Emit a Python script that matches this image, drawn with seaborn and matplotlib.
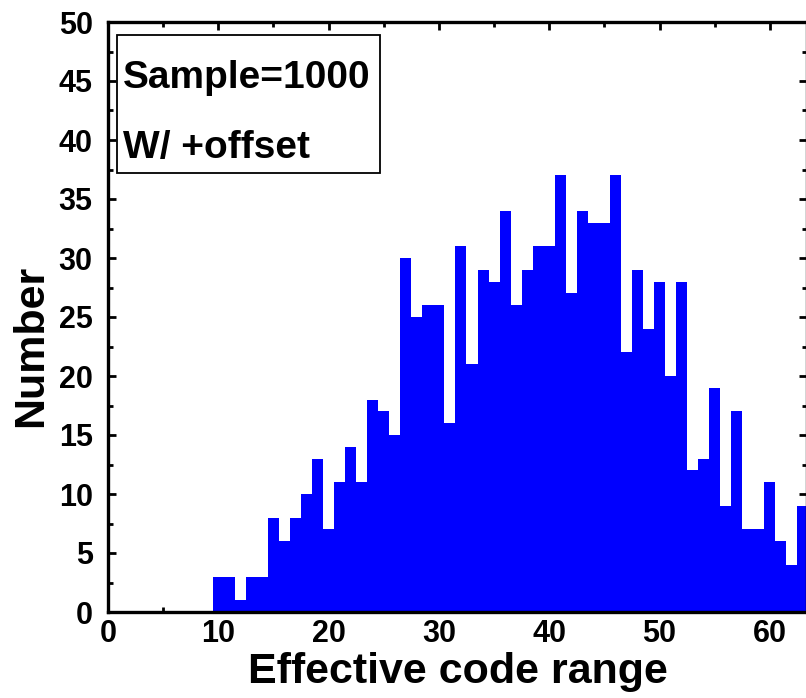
import matplotlib
matplotlib.use("Agg")
import matplotlib.pyplot as plt
from matplotlib.ticker import MultipleLocator
from matplotlib.patches import Rectangle
import seaborn as sns
import pandas as pd

codes = list(range(10, 64))
counts = [3, 3, 1, 3, 3, 8, 6, 8, 10, 13,
          7, 11, 14, 11, 18, 17, 15, 30, 25, 26,
          26, 16, 31, 21, 29, 28, 34, 26, 29, 31,
          31, 37, 27, 34, 33, 33, 37, 22, 29, 24,
          28, 20, 28, 12, 13, 19, 9, 17, 7, 7,
          11, 6, 4, 9]
x_ticks = [0, 10, 20, 30, 40, 50, 60]
y_ticks = [0, 5, 10, 15, 20, 25, 30, 35, 40, 45, 50]
box_lines = ["Sample=1000", "W/ +offset"]
x_label = "Effective code range"
y_label = "Number"

sns.set_style("ticks")
plt.rcParams['font.family'] = ['Liberation Sans', 'DejaVu Sans']
plt.rcParams['font.weight'] = 'bold'
plt.rcParams['text.color'] = 'black'
plt.rcParams['axes.labelcolor'] = 'black'
plt.rcParams['xtick.color'] = 'black'
plt.rcParams['ytick.color'] = 'black'

df = pd.DataFrame({"code": codes, "count": counts})

W, H = 806, 698
fig = plt.figure(figsize=(W / 100, H / 100), dpi=100)
left_px, right_px, top_px, bot_px = 108, 807, 22, 612
ax = fig.add_axes([left_px / W, 1 - bot_px / H, (right_px - left_px) / W, (bot_px - top_px) / H])

sns.histplot(data=df, x="code", weights="count", discrete=True, element="step",
             fill=True, color="#0000FF", alpha=1, linewidth=0, ax=ax)

ax.set_xlim(0, 63.37)
ax.set_ylim(0, 50)
ax.set_xticks(x_ticks)
ax.set_yticks(y_ticks)
ax.xaxis.set_minor_locator(MultipleLocator(5))
ax.yaxis.set_minor_locator(MultipleLocator(2.5))

for s in ax.spines.values():
    s.set_visible(True)
    s.set_linewidth(2.4)
    s.set_color("black")

ax.tick_params(which="both", direction="in", top=True, right=True, colors="black")
ax.tick_params(which="major", length=6, width=2.0, labelsize=22)
ax.tick_params(which="minor", length=3.6, width=2.0)
ax.tick_params(axis="x", which="major", pad=5)
ax.tick_params(axis="y", which="major", pad=11)
for lab in ax.get_xticklabels() + ax.get_yticklabels():
    lab.set_fontweight("bold")
    lab.set_color("black")

ax.set_xlabel(x_label, fontsize=31, fontweight="bold", color="black")
ax.set_ylabel(y_label, fontsize=31, fontweight="bold", color="black")
ax.xaxis.set_label_coords(0.5, -0.068)
ax.yaxis.set_label_coords(-0.082, 0.451)

bx0 = (117 - left_px) / (right_px - left_px)
bx1 = (380 - left_px) / (right_px - left_px)
by1 = (bot_px - 35) / (bot_px - top_px)
by0 = (bot_px - 173) / (bot_px - top_px)
ax.add_patch(Rectangle((bx0, by0), bx1 - bx0, by1 - by0, transform=ax.transAxes,
                       fill=False, edgecolor="black", linewidth=1.3, zorder=5))
tx = (123 - left_px) / (right_px - left_px)
ax.text(tx, (bot_px - 88) / (bot_px - top_px), box_lines[0], transform=ax.transAxes,
        fontsize=28, fontweight="bold", va="baseline", ha="left", color="black", zorder=6)
ax.text(tx, (bot_px - 158) / (bot_px - top_px), box_lines[1], transform=ax.transAxes,
        fontsize=28, fontweight="bold", va="baseline", ha="left", color="black", zorder=6)

fig.savefig("out.png", dpi=100)
